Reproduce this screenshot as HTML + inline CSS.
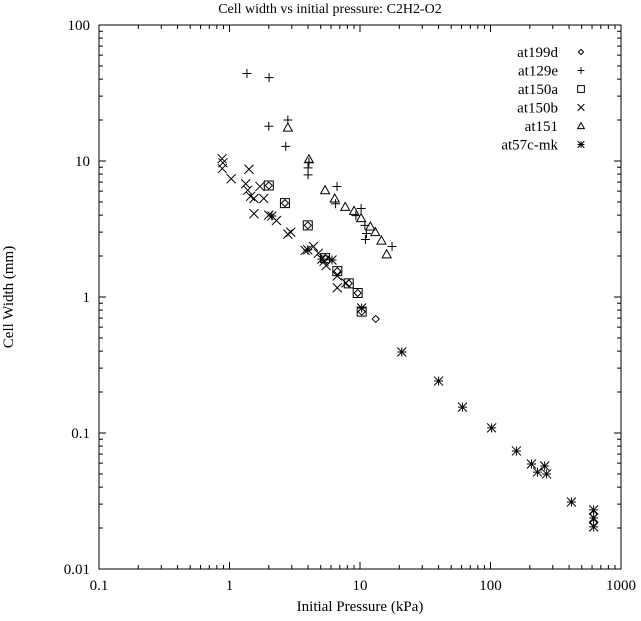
<!DOCTYPE html>
<html><head><meta charset="utf-8"><style>
html,body{margin:0;padding:0;background:#fff}
svg text{font-family:"Liberation Serif",serif;fill:#000}
</style></head><body>
<svg id="chart" width="641" height="616" xmlns="http://www.w3.org/2000/svg">
<text x="330" y="13" font-size="14" text-anchor="middle">Cell width vs initial pressure: C2H2-O2</text>
<text x="360" y="611" font-size="15" text-anchor="middle">Initial Pressure (kPa)</text>
<text transform="translate(13,297) rotate(-90)" font-size="15" text-anchor="middle">Cell Width (mm)</text>
<rect x="99" y="25" width="522" height="544" fill="none" stroke="#000" stroke-width="1"/>
<g id="ticks"></g><g id="marks"></g><g id="legend"></g>
</svg>
<script>
const xTicks=[0.1,1,10,100,1000];
const xTickLabels=["0.1","1","10","100","1000"];
const yTicks=[0.01,0.1,1,10,100];
const yTickLabels=["0.01","0.1","1","10","100"];
const seriesNames=["at199d","at129e","at150a","at150b","at151","at57c-mk"];
const at199dX=[2.0,2.66,3.98,5.4,6.7,8.2,9.6,10.3,13.2,617,617];
const at199dY=[6.6,4.9,3.36,1.93,1.55,1.26,1.07,0.78,0.69,0.0253,0.0219];
const at129eX=[1.36,2.01,2.0,2.8,2.7,4.06,4.0,4.0,6.67,6.5,10.2,9.3,10.9,11.2,11.0,17.6];
const at129eY=[44,41,18,20,12.8,9.8,8.9,7.9,6.5,4.85,4.47,3.97,3.36,2.93,2.65,2.35];
const at150aX=[2.0,2.66,3.98,5.4,6.7,8.2,9.6,10.3];
const at150aY=[6.6,4.9,3.36,1.93,1.55,1.26,1.07,0.78];
const at150bX=[0.877,0.89,0.88,1.03,1.41,1.33,1.38,1.45,1.71,1.83,1.54,1.54,2.0,2.29,2.8,2.95,3.8,4.4,4.8,5.3,5.5,6.7,6.7,7.8];
const at150bY=[10.4,9.7,8.8,7.4,8.7,6.8,6.1,5.5,6.5,5.3,5.3,4.1,4.0,3.65,2.9,3.0,2.2,2.35,2.1,1.83,1.7,1.43,1.17,1.27];
const at151X=[2.8,4.06,5.4,6.4,7.7,9.0,10.2,12.0,13.1,14.6,16.0];
const at151Y=[17.6,10.3,6.1,5.3,4.6,4.3,3.8,3.3,3.0,2.6,2.06];
const at57cX=[2.11,3.98,5.1,6.1,10.3,20.9,40,61,102,158,206,229,260,269,417,617,617,617];
const at57cY=[3.94,2.22,1.9,1.87,0.83,0.394,0.241,0.155,0.109,0.0738,0.0592,0.0516,0.0572,0.050,0.0311,0.0272,0.0237,0.0204];

const NS="http://www.w3.org/2000/svg";
const X0=99,X1=621,Y0=569,Y1=25;
function xs(v){return X0+(Math.log10(v)+1)/4*(X1-X0);}
function ys(v){return Y0-(Math.log10(v)+2)/4*(Y0-Y1);}
function mk(tag,attrs,parent){const e=document.createElementNS(NS,tag);for(const k in attrs)e.setAttribute(k,attrs[k]);parent.appendChild(e);return e;}
const tg=document.getElementById('ticks');
xTicks.forEach((t,i)=>{
  const x=xs(t);
  let l=mk('path',{d:`M${x},${Y0}v-7M${x},${Y1}v7`,stroke:'#000','stroke-width':1},tg);
  
  
  let tx=mk('text',{x:x,y:590,'font-size':15,'text-anchor':'middle'},tg);
  tx.textContent=xTickLabels[i];
  
  
  if(i<xTicks.length-1){for(let m=2;m<=9;m++){const xm=xs(t*m);
    let ml=mk('path',{d:`M${xm},${Y0}v-4M${xm},${Y1}v4`,stroke:'#000','stroke-width':1},tg);
    
    }}
});
yTicks.forEach((t,i)=>{
  const y=ys(t);
  let l=mk('path',{d:`M${X0},${y}h7M${X1},${y}h-7`,stroke:'#000','stroke-width':1},tg);
  
  
  let tx=mk('text',{x:90,y:y+5,'font-size':15,'text-anchor':'end'},tg);
  tx.textContent=yTickLabels[i];
  
  
  if(i<yTicks.length-1){for(let m=2;m<=9;m++){const ym=ys(t*m);
    let ml=mk('path',{d:`M${X0},${ym}h4M${X1},${ym}h-4`,stroke:'#000','stroke-width':1},tg);
    
    }}
});
function sym(type,x,y,p,k){
  let d;const s=4.5*k;
  if(type==0)d=`M${x},${y-3.5*k}L${x+3.5*k},${y}L${x},${y+3.5*k}L${x-3.5*k},${y}Z`;
  else if(type==1)d=`M${x-s},${y}h${2*s}M${x},${y-s}v${2*s}`;
  else if(type==2)d=`M${x-s},${y-s}h${2*s}v${2*s}h${-2*s}Z`;
  else if(type==3)d=`M${x-s},${y-s}L${x+s},${y+s}M${x-s},${y+s}L${x+s},${y-s}`;
  else if(type==4)d=`M${x},${y-s}L${x+s},${y+3.5*k}L${x-s},${y+3.5*k}Z`;
  else d=`M${x-s},${y}h${2*s}M${x},${y-s}v${2*s}M${x-s},${y-s}L${x+s},${y+s}M${x-s},${y+s}L${x+s},${y-s}`;
  return mk('path',{d:d,fill:'none',stroke:'#000','stroke-width':1},p);
}
const mg=document.getElementById('marks');
const allX=[at199dX,at129eX,at150aX,at150bX,at151X,at57cX];
const allY=[at199dY,at129eY,at150aY,at150bY,at151Y,at57cY];
allX.forEach((arr,si)=>{arr.forEach((v,j)=>{
  const e=sym(si,xs(v),ys(allY[si][j]),mg,1);
  
  
});});
const lg=document.getElementById('legend');
seriesNames.forEach((n,i)=>{
  const y=52+i*18.5;
  let t=mk('text',{x:558,y:y+5,'font-size':15,'text-anchor':'end'},lg);
  t.textContent=n;
  
  
  const e=sym(i,581,y,lg,0.75);
  
  
});
</script>
</body></html>
